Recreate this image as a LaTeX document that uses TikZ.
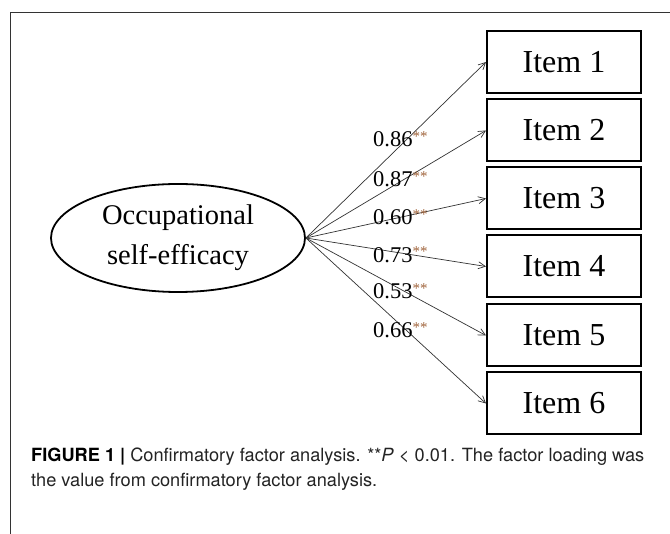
\documentclass[tikz,border=0pt]{standalone}
\usepackage{fontspec}
\setmainfont{Liberation Serif}
\newfontfamily\capfont{TeX Gyre Heros}
\usetikzlibrary{arrows.meta,shapes.geometric}
\definecolor{starc}{RGB}{160,100,60}
\definecolor{linec}{RGB}{50,50,50}
\definecolor{capc}{RGB}{35,35,35}
\newcommand\twostars{\raisebox{5.5pt}{\color{starc}\fontsize{15}{15}\selectfont **}}
\tikzset{
  itembox/.style={draw, line width=2pt, minimum width=154pt, minimum height=62pt, inner sep=0pt, font=\fontsize{32}{38}\selectfont},
  factor/.style={draw, ellipse, line width=1.8pt, minimum width=254pt, minimum height=108pt, inner sep=0pt, align=center, font=\fontsize{28.5}{40}\selectfont},
  arr/.style={draw=linec, line width=0.7pt, -{Straight Barb[length=7pt,width=7pt,line width=0.7pt]}},
  lbl/.style={anchor=base west, inner sep=0pt, font=\fontsize{22.5}{26}\selectfont},
  capt/.style={anchor=base west, inner sep=0pt, align=left, text=capc, font=\capfont\fontsize{18.2}{25}\selectfont}
}
\begin{document}
\begin{tikzpicture}[x=1pt,y=-1pt]
\useasboundingbox (0,0) rectangle (670,534);
\draw[line width=1pt, black!80] (670,12.7) -- (10.7,12.7) -- (10.7,534);

\node[factor] (f) at (178,238) {Occupational\\self-efficacy};

\node[itembox] (i1) at (564,62) {Item 1};
\node[itembox] (i2) at (564,130.5) {Item 2};
\node[itembox] (i3) at (564,198.5) {Item 3};
\node[itembox] (i4) at (564,266.5) {Item 4};
\node[itembox] (i5) at (564,335.5) {Item 5};
\node[itembox] (i6) at (564,403.5) {Item 6};

\foreach \i in {1,...,6} { \draw[arr] (f.east) -- (i\i.west); }

\node[lbl] (l1) at (373,146.6) {0.86\twostars};
\node[lbl] (l2) at (373,186.6) {0.87\twostars};
\node[lbl] (l3) at (373,224.6) {0.60\twostars};
\node[lbl] (l4) at (373,262.1) {0.73\twostars};
\node[lbl] (l5) at (373,298.6) {0.53\twostars};
\node[lbl] (l6) at (373,337.6) {0.66\twostars};

\node[capt] (cap) at (31,487) {\textbf{\color{black}FIGURE 1 |} Confirmatory factor analysis. **\textit{P} < 0.01. The factor loading was\\the value from confirmatory factor analysis.};
\end{tikzpicture}
\end{document}
